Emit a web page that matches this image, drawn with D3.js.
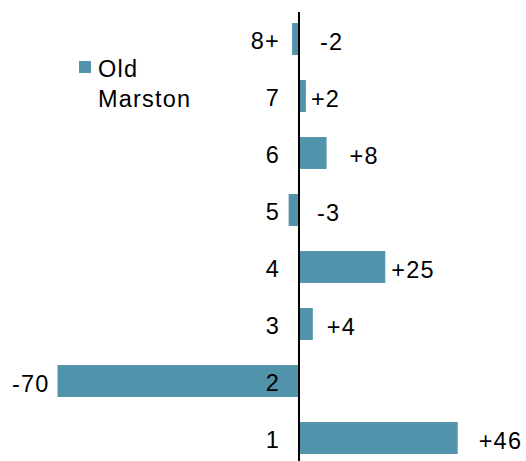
<!DOCTYPE html>
<html>
<head>
<meta charset="utf-8">
<script src="https://cdn.jsdelivr.net/npm/d3@7"></script>
<style>
  html, body { margin: 0; padding: 0; background: #fff; }
  svg { display: block; font-family: "Liberation Sans", Arial, sans-serif; }
</style>
</head>
<body>
<svg id="chart" width="526" height="461"></svg>
<script>
// ---- data ----
const categories = ["8+", "7", "6", "5", "4", "3", "2", "1"];
const values = [-2, 2, 8, -3, 25, 4, -70, 46];
const valueLabels = ["-2", "+2", "+8", "-3", "+25", "+4", "-70", "+46"];
const seriesName = ["Old", "Marston"];
// label nudges (px) away from the bar end
const labelDx = [21, 5, 23, 18, 6, 14, -8, 21];

// ---- layout ----
const W = 526, H = 461;
const svg = d3.select("#chart");
const color = "#5193ab";
const fontSize = 23.5;
const ls = 1.2;

const x = d3.scaleLinear().domain([-70, 46]).range([57.5, 457.7]);
const y = d3.scaleBand().domain(categories).range([10.5, 466.5])
  .paddingInner(0.44).paddingOuter(0.22);

// bars
svg.append("g").selectAll("rect")
  .data(values)
  .join("rect")
  .attr("x", d => x(Math.min(0, d)))
  .attr("width", d => Math.abs(x(d) - x(0)))
  .attr("y", (d, i) => y(categories[i]))
  .attr("height", y.bandwidth())
  .attr("fill", color);

// zero axis line
svg.append("line")
  .attr("x1", x(0)).attr("x2", x(0))
  .attr("y1", 12).attr("y2", H)
  .attr("stroke", "#000").attr("stroke-width", 2);

// category labels
svg.append("g").selectAll("text")
  .data(categories)
  .join("text")
  .attr("x", 280)
  .attr("y", d => y(d) + y.bandwidth() / 2 + 10.4)
  .attr("text-anchor", "end")
  .attr("font-size", fontSize)
  .attr("letter-spacing", ls)
  .attr("fill", "#000")
  .text(d => d);

// value labels
svg.append("g").selectAll("text")
  .data(values)
  .join("text")
  .attr("x", (d, i) => (d <= -10 ? x(d) : x(Math.max(0, d))) + labelDx[i])
  .attr("y", (d, i) => y(categories[i]) + y.bandwidth() / 2 + 10.8)
  .attr("text-anchor", d => d <= -10 ? "end" : "start")
  .attr("font-size", fontSize)
  .attr("letter-spacing", ls)
  .attr("fill", "#000")
  .text((d, i) => valueLabels[i]);

// legend
const lg = svg.append("g");
lg.append("rect").attr("x", 79).attr("y", 61).attr("width", 12).attr("height", 12).attr("fill", color);
lg.selectAll("text")
  .data(seriesName)
  .join("text")
  .attr("x", 98)
  .attr("y", (d, i) => 77.3 + i * 29.4)
  .attr("font-size", fontSize)
  .attr("letter-spacing", ls)
  .attr("fill", "#000")
  .text(d => d);
</script>
</body>
</html>
